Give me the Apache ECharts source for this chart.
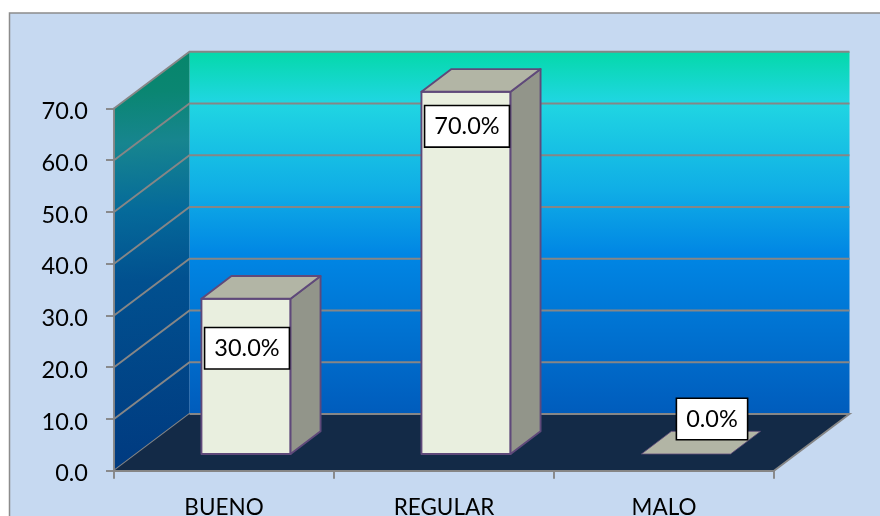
<!DOCTYPE html>
<html>
<head>
<meta charset="utf-8">
<style>html,body{margin:0;padding:0;background:#fff}#c{width:880px;height:516px}</style>
<script src="https://cdn.jsdelivr.net/npm/echarts@6/dist/echarts.min.js"></script>
</head>
<body>
<div id="c"></div>
<script>
const categories = ['BUENO', 'REGULAR', 'MALO'];
const values = [30, 70, 0];
const yTicks = [0, 10, 20, 30, 40, 50, 60, 70];

const FONT = 'Lato, "Noto Sans", sans-serif';
const FONT_SIZE = 23.5;
const DEPTH = [75.5, -56.7];       // full floor depth on screen
const BAR_FRONT = [22, -16.7];     // front face of bars relative to front plane
const BAR_DEPTH = [30, -22.7];
const BAR_FRACTION = 0.405;
const LABEL_OFFSET = [[1, 49.5], [1, 34.5], [26, -35]]; // label centre from bar's top-front centre

const chart = echarts.init(document.getElementById('c'), null, {renderer: 'canvas'});

function poly(points, style) {
  return {type: 'polygon', shape: {points}, style};
}
function wallsRender(params, api) {
  const w = api.size([1, 0])[0];
  const x0 = api.coord([0, 0])[0] - w / 2;
  const x1 = x0 + w * categories.length;
  const yb = api.coord([0, 0])[1];
  const yt = api.coord([0, 70])[1];
  const [dx, dy] = DEPTH;
  return {type: 'group', children: [
    poly([[x0 + dx, yt + dy], [x1 + dx, yt + dy], [x1 + dx, yb + dy], [x0 + dx, yb + dy]], {
      fill: {type: 'linear', x: 0, y: 0, x2: 0, y2: 1, colorStops: [
        {offset: 0, color: '#04d9aa'}, {offset: 0.14, color: '#20d6e2'},
        {offset: 0.38, color: '#10aee6'}, {offset: 0.56, color: '#0086e4'},
        {offset: 1, color: '#005cbc'}]}
    }),
    poly([[x0, yt], [x0 + dx, yt + dy], [x0 + dx, yb + dy], [x0, yb]], {
      fill: {type: 'linear', x: 0, y: 0, x2: 0.35, y2: 1, colorStops: [
        {offset: 0, color: '#06866a'}, {offset: 0.1, color: '#0a8672'}, {offset: 0.22, color: '#17858f'},
        {offset: 0.38, color: '#056a9a'}, {offset: 0.55, color: '#01508f'},
        {offset: 1, color: '#003a80'}]}
    })
  ]};
}
function gridRender(params, api) {
  const w = api.size([1, 0])[0];
  const x0 = api.coord([0, 0])[0] - w / 2;
  const x1 = x0 + w * categories.length;
  const y = api.coord([0, api.value(0)])[1];
  const [dx, dy] = DEPTH;
  return {type: 'polyline', shape: {points: [[x0, y], [x0 + dx, y + dy], [x1 + dx, y + dy]]},
    style: {stroke: '#868686', lineWidth: 1.9, fill: null}};
}
function floorRender(params, api) {
  const w = api.size([1, 0])[0];
  const x0 = api.coord([0, 0])[0] - w / 2;
  const x1 = x0 + w * categories.length;
  const yb = api.coord([0, 0])[1];
  const [dx, dy] = DEPTH;
  return {type: 'group', children: [
    poly([[x0, yb], [x0 + dx, yb + dy], [x1 + dx, yb + dy], [x1, yb]], {fill: '#132a47'}),
    {type: 'polyline', shape: {points: [[x0 + dx, yb + dy], [x1 + dx, yb + dy], [x1, yb]]},
      style: {stroke: '#868686', lineWidth: 1.9, fill: null}}
  ]};
}
function barRender(params, api) {
  const i = api.value(0), v = api.value(1);
  const w = api.size([1, 0])[0] * BAR_FRACTION;
  const base = api.coord([i, 0]), top = api.coord([i, v]);
  const xl = base[0] + BAR_FRONT[0] - w / 2, xr = xl + w;
  const yb = base[1] + BAR_FRONT[1], yt = top[1] + BAR_FRONT[1];
  const [bx, by] = BAR_DEPTH;
  const stroke = {stroke: '#5f497a', lineWidth: v > 0 ? 1.9 : 0.8, lineJoin: 'round'};
  const kids = [];
  if (v > 0) {
    kids.push(poly([[xl, yt], [xr, yt], [xr, yb], [xl, yb]], {fill: '#e9efdf', ...stroke}));
    kids.push(poly([[xr, yt], [xr + bx, yt + by], [xr + bx, yb + by], [xr, yb]], {fill: '#92958a', ...stroke}));
  }
  kids.push(poly([[xl, yt], [xr, yt], [xr + bx, yt + by], [xl + bx, yt + by]], {fill: '#b2b5a5', ...stroke}));
  const off = LABEL_OFFSET[i];
  kids.push({type: 'text', z2: 10, style: {
    x: (xl + xr) / 2 + off[0], y: yt + off[1],
    text: v.toFixed(1) + '%', align: 'center', verticalAlign: 'middle',
    font: FONT_SIZE + 'px ' + FONT, fill: '#000',
    backgroundColor: '#fff', borderColor: '#000', borderWidth: 1.6, padding: [9, 9, 7, 9]
  }});
  return {type: 'group', children: kids};
}

chart.setOption({
  animation: false,
  backgroundColor: '#ffffff',
  graphic: [{type: 'rect', z: -10, silent: true,
    shape: {x: 9.5, y: 13, width: 900, height: 600},
    style: {fill: '#c6d9f1', stroke: '#8c8c8c', lineWidth: 1.5}}],
  grid: {left: 114, right: 106, top: 108.5, bottom: 45.3, containLabel: false, outerBoundsMode: 'none'},
  xAxis: {
    type: 'category', data: categories, z: 6,
    axisLine: {show: true, lineStyle: {color: '#868686', width: 1.9}},
    axisTick: {show: true, alignWithLabel: false, length: 8, lineStyle: {color: '#868686', width: 1.9}},
    axisLabel: {color: '#000', fontFamily: FONT, fontSize: 22.5, margin: 26, interval: 0},
    splitLine: {show: false}
  },
  yAxis: {
    type: 'value', min: 0, max: 70, interval: 10, z: 6,
    axisLine: {show: true, lineStyle: {color: '#868686', width: 1.9}},
    axisTick: {show: true, length: 8, lineStyle: {color: '#868686', width: 1.9}},
    axisLabel: {margin: 26,
      formatter: v => '{t|' + v.toFixed(1) + '}',
      rich: {t: {color: '#000', fontFamily: FONT, fontSize: FONT_SIZE, padding: [6, 0, 0, 0]}}},
    splitLine: {show: false}
  },
  series: [
    {type: 'custom', z: 1, silent: true, renderItem: wallsRender, data: [[0]], encode: {x: -1, y: -1}},
    {type: 'custom', z: 2, silent: true, renderItem: gridRender, data: yTicks.map(t => [t]), encode: {x: -1, y: 0}},
    {type: 'custom', z: 3, silent: true, renderItem: floorRender, data: [[0]], encode: {x: -1, y: -1}},
    {type: 'custom', z: 4, silent: true, renderItem: barRender, data: values.map((v, i) => [i, v]), encode: {x: 0, y: 1}}
  ]
});
</script>
</body>
</html>
